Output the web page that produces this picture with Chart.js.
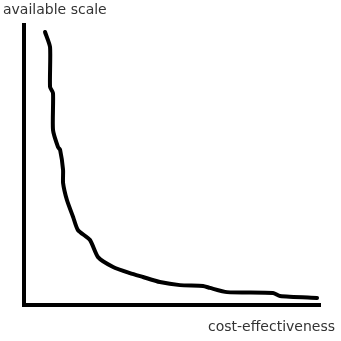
<!DOCTYPE html>
<html>
<head>
<meta charset="utf-8">
<script src="https://cdn.jsdelivr.net/npm/chart.js@4/dist/chart.umd.min.js"></script>
<style>
    html, body { margin: 0; padding: 0; background: #fff; }
    #wrap { width: 341px; height: 341px; }
</style>
</head>
<body>
<div id="wrap"><canvas id="chart"></canvas></div>
<script>
// hand drawn curve (arbitrary units 0..100)
let costEffectiveness = [7.1, 8.8, 8.8, 9.8, 9.8, 11.5, 12.2, 13.2, 13.2, 14.5, 16.6, 18.2, 22.3, 25.0, 30.1, 35.8, 40.2, 45.9, 52.7, 60.5, 62.8, 68.6, 84.1, 86.5, 99.0];
let availableScale = [97.5, 92.1, 77.9, 75.7, 62.5, 56.4, 55.4, 48.2, 43.6, 37.5, 31.4, 26.8, 23.2, 17.1, 13.6, 11.4, 10.0, 8.2, 7.1, 6.8, 6.1, 4.6, 4.3, 3.2, 2.5];

let yLabel = "available scale";
let xLabel = "cost-effectiveness";

// draws the two axis labels like in the sketch (top left / bottom right)
const axisLabels = {
    id: "axisLabels",
    afterDraw(chart) {
        const ctx = chart.ctx;
        ctx.save();
        ctx.fillStyle = "#333";
        ctx.font = "14px 'DejaVu Sans'";
        ctx.textBaseline = "alphabetic";
        ctx.textAlign = "left";
        ctx.fillText(yLabel, 3, 14);
        ctx.textAlign = "right";
        ctx.fillText(xLabel, 335, 331);
        ctx.restore();
    }
};

let points = costEffectiveness.map((x, i) => ({ x: x, y: availableScale[i] }));

new Chart(document.getElementById("chart"), {
    type: "scatter",
    data: {
        datasets: [{
            data: points,
            showLine: true,
            borderColor: "#000",
            borderWidth: 4,
            borderCapStyle: "round",
            borderJoinStyle: "round",
            pointRadius: 0,
            tension: 0.2
        }]
    },
    options: {
        responsive: true,
        maintainAspectRatio: false,
        animation: false,
        layout: { padding: { left: 24, right: 21, top: 25, bottom: 36 } },
        plugins: {
            legend: { display: false },
            tooltip: { enabled: false }
        },
        scales: {
            x: {
                min: 0, max: 100,
                grid: { display: false, drawTicks: false },
                ticks: { display: false },
                border: { display: true, color: "#000", width: 4 }
            },
            y: {
                min: 0, max: 100,
                grid: { display: false, drawTicks: false },
                ticks: { display: false },
                border: { display: true, color: "#000", width: 4 }
            }
        }
    },
    plugins: [axisLabels]
});
</script>
</body>
</html>
